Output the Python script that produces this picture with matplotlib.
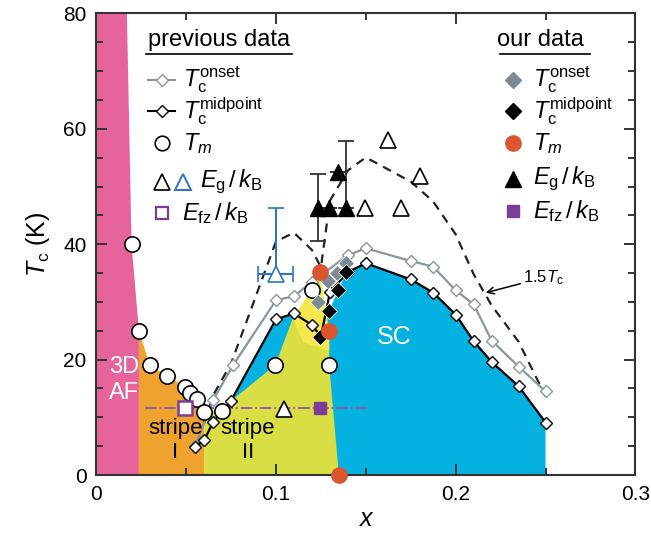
import numpy as np
import matplotlib.pyplot as plt

plt.rcParams['font.family'] = ['Liberation Sans', 'DejaVu Sans']
plt.rcParams['mathtext.fontset'] = 'custom'
plt.rcParams['mathtext.rm'] = 'Liberation Sans'
plt.rcParams['mathtext.it'] = 'Liberation Sans:italic'
plt.rcParams['mathtext.bf'] = 'Liberation Sans:bold'

# colours
PINK = '#e5649c'
ORANGE = '#f0a22e'
YGREEN = '#d9de45'
YELLOW = '#f6e74c'
BLUE = '#05b1e0'
RED = '#db5530'
PURPLE = '#7d3c95'
GRAY = '#8a969e'
GRAYFILL = '#7e8a93'
EBLUE = '#2f74c0'

# previous data
prev_onset_x = [0.055, 0.065, 0.076, 0.10, 0.11, 0.12, 0.14, 0.15, 0.175, 0.1875, 0.20, 0.21, 0.22, 0.235, 0.25]
prev_onset_y = [5.0, 13.0, 19.0, 30.3, 31.0, 33.5, 38.1, 39.3, 37.1, 36.1, 32.0, 29.6, 23.3, 18.8, 14.5]
prev_mid_x = [0.055, 0.06, 0.065, 0.075, 0.10, 0.11, 0.12, 0.125, 0.13, 0.14, 0.15, 0.175, 0.1875, 0.20, 0.21, 0.22, 0.235, 0.25]
prev_mid_y = [4.9, 6.0, 9.2, 12.9, 27.0, 28.0, 26.0, 24.0, 31.7, 35.2, 36.7, 33.9, 31.6, 27.8, 23.2, 19.6, 15.4, 9.1]
prev_tm_x = [0.0196, 0.0237, 0.0298, 0.0396, 0.0492, 0.0524, 0.0558, 0.060, 0.0697, 0.0997, 0.1198, 0.1296]
prev_tm_y = [40.0, 25.0, 19.0, 17.1, 15.3, 14.3, 13.2, 11.0, 11.1, 19.1, 32.1, 19.0]
prev_eg_x = [0.1045, 0.1494, 0.1624, 0.1698, 0.180]
prev_eg_y = [11.5, 46.3, 58.1, 46.3, 51.8]
prev_eg_blue_x = [0.0999]
prev_eg_blue_y = [34.9]
prev_eg_blue_xerr = [0.0097]
prev_eg_blue_yerr_up = [11.4]
prev_efz_x = [0.0492]
prev_efz_y = [11.7]

# our data
our_onset_x = [0.1234, 0.129, 0.1337, 0.139]
our_onset_y = [30.0, 33.6, 35.0, 36.8]
our_mid_x = [0.1244, 0.1296, 0.1346, 0.1392]
our_mid_y = [24.0, 28.5, 32.0, 35.2]
our_tm_x = [0.1244, 0.1296, 0.135]
our_tm_y = [35.2, 25.0, 0.0]
our_eg_x = [0.1231, 0.1296, 0.1346, 0.1392]
our_eg_y = [46.3, 46.3, 52.5, 46.3]
our_eg_err_lo = [5.8, 0, 0, 0]
our_eg_err_hi = [5.8, 0, 0, 11.6]
our_efz_x = [0.1244]
our_efz_y = [11.7]
efz_line_x = [0.027, 0.1513]
efz_line_y = [11.7, 11.7]

# phase regions
af_x = [0, 0, 0.017, 0.0196, 0.0237, 0.0237]
af_y = [0, 80, 80, 40, 25, 0]
stripe1_x = [0.0237, 0.0237, 0.0298, 0.0396, 0.0492, 0.0524, 0.0558, 0.060, 0.060]
stripe1_y = [0, 25, 19, 17.1, 15.3, 14.3, 13.2, 11.0, 0]
sc_x = [0.060, 0.0752, 0.10, 0.11, 0.12, 0.1244, 0.1296, 0.1346, 0.1392, 0.15, 0.175, 0.1875, 0.20, 0.21, 0.22, 0.235, 0.25, 0.25]
sc_y = [0, 12.9, 27.0, 28.0, 26.0, 24.0, 28.5, 32.0, 35.2, 36.7, 33.9, 31.6, 27.8, 23.2, 19.6, 15.4, 9.1, 0]
stripe2_x = [0.060, 0.060, 0.0697, 0.0752, 0.0997, 0.1095, 0.12, 0.1244, 0.1296, 0.1296, 0.135]
stripe2_y = [0, 11.0, 11.1, 12.9, 19.1, 27.3, 26.0, 24.0, 25.0, 19.0, 0]
yel_x = [0.1095, 0.1198, 0.1244, 0.1296, 0.1296, 0.115]
yel_y = [27.3, 32.1, 35.2, 25.0, 21.5, 23.0]

fig = plt.figure(figsize=(6.51, 5.39), dpi=100)
ax = fig.add_axes([0.148, 0.1187, 0.828, 0.8563])

ax.fill(sc_x, sc_y, color=BLUE, lw=0, zorder=1)
ax.fill(stripe2_x, stripe2_y, color=YGREEN, lw=0, zorder=1.1)
ax.fill(yel_x, yel_y, color=YELLOW, lw=0, zorder=1.2)
ax.fill(stripe1_x, stripe1_y, color=ORANGE, lw=0, zorder=1.3)
ax.fill(af_x, af_y, color=PINK, lw=0, zorder=1.4)

# 1.5 Tc guide
dash_x = prev_mid_x[1:]
dash_y = [1.5 * v for v in prev_mid_y[1:]]
ax.plot(dash_x, dash_y, '--', color='#222222', lw=1.6, dashes=(4, 3), zorder=2)

ax.plot(efz_line_x, efz_line_y, '-.', color='#8a5aa5', lw=1.3, zorder=2)

ax.plot(prev_onset_x, prev_onset_y, '-D', color=GRAY, mfc='white', mec=GRAY, ms=6.5, lw=1.6, zorder=3)
ax.plot(prev_mid_x, prev_mid_y, '-D', color='black', mfc='white', mec='black', ms=6.5, lw=1.6, zorder=3.1)
ax.plot(prev_tm_x, prev_tm_y, 'o', mfc='white', mec='black', ms=11, mew=1.2, zorder=4)
ax.plot(prev_eg_x, prev_eg_y, '^', mfc='white', mec='black', ms=12, mew=1.2, zorder=4)
ax.errorbar(prev_eg_blue_x, prev_eg_blue_y, xerr=prev_eg_blue_xerr,
            yerr=[[0], prev_eg_blue_yerr_up], fmt='^', mfc='white', mec=EBLUE,
            ecolor=EBLUE, ms=12, mew=1.2, capsize=6, elinewidth=1.4, capthick=1.4, zorder=4)
ax.plot(prev_efz_x, prev_efz_y, 's', mfc='white', mec=PURPLE, ms=10, mew=1.8, zorder=4)

ax.errorbar(our_eg_x, our_eg_y, yerr=[our_eg_err_lo, our_eg_err_hi], fmt='^',
            color='black', ecolor='#333333', ms=12, capsize=6, elinewidth=1.3,
            capthick=1.3, zorder=4)
ax.plot(our_onset_x, our_onset_y, 'D', color=GRAYFILL, mec='white', mew=0.6, ms=8, zorder=5)
ax.plot(our_mid_x, our_mid_y, 'D', color='black', mec='white', mew=0.6, ms=8, zorder=5.1)
ax.plot(our_tm_x, our_tm_y, 'o', color=RED, ms=11, zorder=6, clip_on=False)
ax.plot(our_efz_x, our_efz_y, 's', color=PURPLE, ms=9, zorder=5)

# region labels
ax.text(0.0155, 16.5, '3D\nAF', color='white', fontsize=17, ha='center', va='center', linespacing=1.2, zorder=7)
ax.text(0.044, 6.0, 'stripe\nI', color='black', fontsize=16, ha='center', va='center', linespacing=1.15, zorder=7)
ax.text(0.0843, 6.0, 'stripe\nII', color='black', fontsize=16, ha='center', va='center', linespacing=1.15, zorder=7)
ax.text(0.166, 24.0, 'SC', color='white', fontsize=18, ha='center', va='center', zorder=7)
ax.annotate(r'1.5$T_\mathrm{c}$', xy=(0.2167, 31.6), xytext=(0.2375, 34.2),
            fontsize=12, va='center', ha='left',
            arrowprops=dict(arrowstyle='->', color='black', lw=1.1, shrinkA=0, shrinkB=0))

# legends drawn by hand
T = ax.transAxes
ax.text(0.227, 0.943, 'previous data', transform=T, fontsize=17, ha='center', va='center')
ax.plot([0.092, 0.363], [0.912, 0.912], transform=T, color='black', lw=1.2)
ax.plot([0.0955, 0.1456], [0.856, 0.856], '-', color=GRAY, lw=1.5, transform=T)
ax.plot([0.121], [0.856], 'D', mfc='white', mec=GRAY, ms=6.5, transform=T)
ax.plot([0.0955, 0.1456], [0.789, 0.789], '-', color='black', lw=1.5, transform=T)
ax.plot([0.121], [0.789], 'D', mfc='white', mec='black', ms=6.5, transform=T)
ax.plot([0.121], [0.719], 'o', mfc='white', mec='black', ms=10.5, mew=1.2, transform=T)
ax.plot([0.1215], [0.635], '^', mfc='white', mec='black', ms=11, mew=1.2, transform=T)
ax.plot([0.160], [0.635], '^', mfc='white', mec=EBLUE, ms=11, mew=1.4, transform=T)
ax.plot([0.1215], [0.568], 's', mfc='white', mec=PURPLE, ms=9, mew=1.6, transform=T)
ax.text(0.160, 0.856, r'$T_\mathrm{c}^\mathrm{onset}$', transform=T, fontsize=17, va='center')
ax.text(0.160, 0.789, r'$T_\mathrm{c}^\mathrm{midpoint}$', transform=T, fontsize=17, va='center')
ax.text(0.160, 0.719, r'$T_m$', transform=T, fontsize=17, va='center')
ax.text(0.192, 0.635, r'$E_\mathrm{g}\,/\,k_\mathrm{B}$', transform=T, fontsize=17, va='center')
ax.text(0.159, 0.568, r'$E_\mathrm{fz}\,/\,k_\mathrm{B}$', transform=T, fontsize=17, va='center')

ax.text(0.8245, 0.943, 'our data', transform=T, fontsize=17, ha='center', va='center')
ax.plot([0.7485, 0.9154], [0.912, 0.912], transform=T, color='black', lw=1.2)
ax.plot([0.7726], [0.856], 'D', color=GRAYFILL, ms=8, transform=T)
ax.plot([0.7726], [0.789], 'D', color='black', ms=8, transform=T)
ax.plot([0.7726], [0.719], 'o', color=RED, ms=11, transform=T)
ax.plot([0.7726], [0.641], '^', color='black', ms=11, transform=T)
ax.plot([0.7726], [0.572], 's', color=PURPLE, ms=9, transform=T)
ax.text(0.8096, 0.856, r'$T_\mathrm{c}^\mathrm{onset}$', transform=T, fontsize=17, va='center')
ax.text(0.8096, 0.789, r'$T_\mathrm{c}^\mathrm{midpoint}$', transform=T, fontsize=17, va='center')
ax.text(0.8096, 0.719, r'$T_m$', transform=T, fontsize=17, va='center')
ax.text(0.8096, 0.641, r'$E_\mathrm{g}\,/\,k_\mathrm{B}$', transform=T, fontsize=17, va='center')
ax.text(0.8096, 0.572, r'$E_\mathrm{fz}\,/\,k_\mathrm{B}$', transform=T, fontsize=17, va='center')

ax.set_xlim(0, 0.3)
ax.set_ylim(0, 80)
ax.set_xticks([0, 0.1, 0.2, 0.3])
ax.set_xticklabels(['0', '0.1', '0.2', '0.3'])
ax.set_xticks(np.arange(0, 0.31, 0.05), minor=True)
ax.set_yticks([0, 20, 40, 60, 80])
ax.set_yticks(np.arange(0, 81, 5), minor=True)
ax.tick_params(which='both', direction='in', top=True, right=True, labelsize=15, color='#333333', width=1.4)
ax.tick_params(which='major', length=8, pad=7)
ax.tick_params(which='minor', length=5)
for s in ax.spines.values():
    s.set_linewidth(1.5)
    s.set_color('#333333')
ax.set_xlabel(r'$x$', fontsize=18, labelpad=2)
ax.set_ylabel(r'$T_\mathrm{c}$ (K)', fontsize=18, labelpad=8)

fig.savefig('out.png', dpi=100)
